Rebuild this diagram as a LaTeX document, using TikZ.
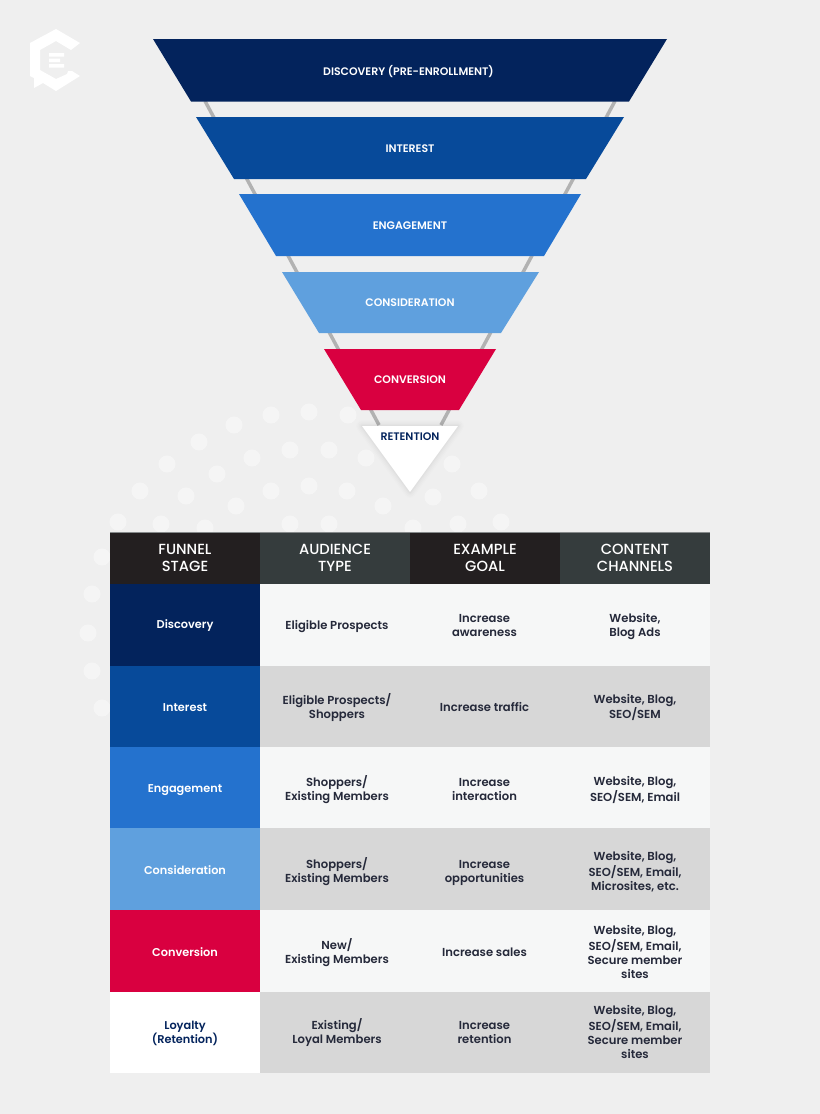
\documentclass[tikz,border=0pt]{standalone}
\usepackage{fontspec}
\setmainfont{Poppins}[UprightFont=*-Medium,BoldFont=*-SemiBold]
\usetikzlibrary{calc}
\definecolor{bgc}{HTML}{EFEFEF}
\definecolor{navyc}{HTML}{03235C}
\definecolor{bluec}{HTML}{074A9A}
\definecolor{midc}{HTML}{2472CE}
\definecolor{skyc}{HTML}{5FA0DE}
\definecolor{redc}{HTML}{D90040}
\definecolor{hdaa}{HTML}{231F20}
\definecolor{hdbb}{HTML}{353C3D}
\definecolor{rowaa}{HTML}{F6F7F7}
\definecolor{rowbb}{HTML}{D7D7D7}
\definecolor{inkc}{HTML}{25293A}
\definecolor{railc}{HTML}{B2B2B2}
\tikzset{
  x=0.75pt,y=-0.75pt,
  funneltxt/.style={text=white,font=\fontsize{8.2pt}{9.5pt}\selectfont\bfseries,inner sep=0pt},
  hdtxt/.style={text=white,font=\fontsize{11pt}{12.75pt}\selectfont,align=center,inner sep=0pt},
  stagetxt/.style={text=white,font=\fontsize{8.5pt}{10.5pt}\selectfont\bfseries,align=center,inner sep=0pt},
  celltxt/.style={text=inkc,font=\fontsize{8.7pt}{10.5pt}\selectfont\bfseries,align=center,inner sep=0pt},
  dot/.style={fill=white,fill opacity=0.42,draw=none},
}
\begin{document}
\begin{tikzpicture}
\useasboundingbox (0,0) rectangle (820,1114);
\fill[bgc] (0,0) rectangle (820,1114);
% logo
\fill[white] (56,29) -- (80,43) -- (71,50) -- (56,41) -- (40,50) -- (40,70) -- (56,79) -- (67,74) -- (68,71) -- (72,71) -- (80,76) -- (56,91) -- (43,83) -- (34,88) -- (34,78) -- (30,76) -- (30,43) -- cycle;
\fill[white] (49,53) rectangle (64,56.5) (49,58.5) rectangle (60,62) (49,64) rectangle (64,67.5);
% dots
\foreach \px/\py in {271/415,309/412,348/415,234/425,199/442,290/450,329/450,366/458,252/458,167/464,217/474,452/464,140/491,271/491,309/486,347/491,186/496,236/506,383/506,433/497,479/491,118/522,161/524,205/528,290/524,329/524,413/528,458/524,501/522,102/557,92/594,88/633,92/671,102/708}
  \fill[dot] (\px,\py) circle[radius=6.4pt];
% rails
\draw[railc,line width=2.6pt] (205,101) -- (379,425);
\draw[railc,line width=2.6pt] (615,101) -- (441,425);
% funnel
\fill[navyc] (153,39) -- (667,39) -- (629,101.5) -- (191,101.5) -- cycle;
\fill[bluec] (196,117) -- (624,117) -- (586,179) -- (234,179) -- cycle;
\fill[midc] (239,194) -- (581,194) -- (544,256) -- (276,256) -- cycle;
\fill[skyc] (282,272) -- (539,272) -- (501,333) -- (319,333) -- cycle;
\fill[redc] (324,349) -- (496,349) -- (459,410) -- (361,410) -- cycle;
\foreach \w/\o in {9/0.008,7/0.01,5/0.012,3/0.014,1.5/0.016}
  \draw[black,opacity=\o,line width=\w pt,line join=round] (362,426) -- (458,426) -- (410,492) -- cycle;
\fill[white] (362,426) -- (458,426) -- (410,492) -- cycle;
\node[funneltxt] (f1) at (408.5,71.5) {DISCOVERY (PRE-ENROLLMENT)};
\node[funneltxt] (f2) at (410,149) {INTEREST};
\node[funneltxt] (f3) at (410,226) {ENGAGEMENT};
\node[funneltxt] (f4) at (410,303) {CONSIDERATION};
\node[funneltxt] (f5) at (410,380) {CONVERSION};
\node[funneltxt,text=navyc] (f6) at (410,437) {RETENTION};
% table
\fill[hdaa] (110,532) rectangle (260,584);
\fill[hdbb] (260,532) rectangle (410,584);
\fill[hdaa] (410,532) rectangle (560,584);
\fill[hdbb] (560,532) rectangle (710,584);
\fill[navyc] (110,584) rectangle (260,666);
\fill[bluec] (110,666) rectangle (260,747);
\fill[midc] (110,747) rectangle (260,828);
\fill[skyc] (110,828) rectangle (260,910);
\fill[redc] (110,910) rectangle (260,992);
\fill[white] (110,992) rectangle (260,1073);
\fill[rowaa] (260,584) rectangle (710,666);
\fill[rowbb] (260,666) rectangle (710,747);
\fill[rowaa] (260,747) rectangle (710,828);
\fill[rowbb] (260,828) rectangle (710,910);
\fill[rowaa] (260,910) rectangle (710,992);
\fill[rowbb] (260,992) rectangle (710,1073);
\draw[hdbb!60!white,line width=0.4pt] (110,532) -- (710,532);
\node[hdtxt] (h1) at (185,557.5) {FUNNEL\\STAGE};
\node[hdtxt] (h2) at (335,557.5) {AUDIENCE\\TYPE};
\node[hdtxt] (h3) at (485,557.5) {EXAMPLE\\GOAL};
\node[hdtxt] (h4) at (635,557.5) {CONTENT\\CHANNELS};
\node[stagetxt] (s1) at (185,626) {Discovery};
\node[stagetxt] (s2) at (185,708) {Interest};
\node[stagetxt] (s3) at (185,790.5) {Engagement};
\node[stagetxt] (s4) at (185,870.5) {Consideration};
\node[stagetxt] (s5) at (185,952.5) {Conversion};
\node[stagetxt,text=navyc] (s6) at (185,1033) {Loyalty\\(Retention)};
\node[celltxt] (a1) at (337,627) {Eligible Prospects};
\node[celltxt] (a2) at (337,708) {Eligible Prospects/\\Shoppers};
\node[celltxt] (a3) at (337,790) {Shoppers/\\Existing Members};
\node[celltxt] (a4) at (337,872) {Shoppers/\\Existing Members};
\node[celltxt] (a5) at (337,953) {New/\\Existing Members};
\node[celltxt] (a6) at (337,1033) {Existing/\\Loyal Members};
\node[celltxt] (g1) at (484.5,625) {Increase\\awareness};
\node[celltxt] (g2) at (484.5,707) {Increase traffic};
\node[celltxt] (g3) at (484.5,789) {Increase\\interaction};
\node[celltxt] (g4) at (484.5,873) {Increase\\opportunities};
\node[celltxt] (g5) at (484.5,952) {Increase sales};
\node[celltxt] (g6) at (484.5,1032) {Increase\\retention};
\node[celltxt] (c1) at (635,626.5) {Website,\\Blog Ads};
\node[celltxt] (c2) at (635,707.5) {Website, Blog,\\SEO/SEM};
\node[celltxt] (c3) at (635,790) {Website, Blog,\\SEO/SEM, Email};
\node[celltxt] (c4) at (635,871.5) {Website, Blog,\\SEO/SEM, Email,\\Microsites, etc.};
\node[celltxt] (c5) at (635,952) {Website, Blog,\\SEO/SEM, Email,\\Secure member\\sites};
\node[celltxt] (c6) at (635,1032) {Website, Blog,\\SEO/SEM, Email,\\Secure member\\sites};
\end{tikzpicture}
\end{document}
